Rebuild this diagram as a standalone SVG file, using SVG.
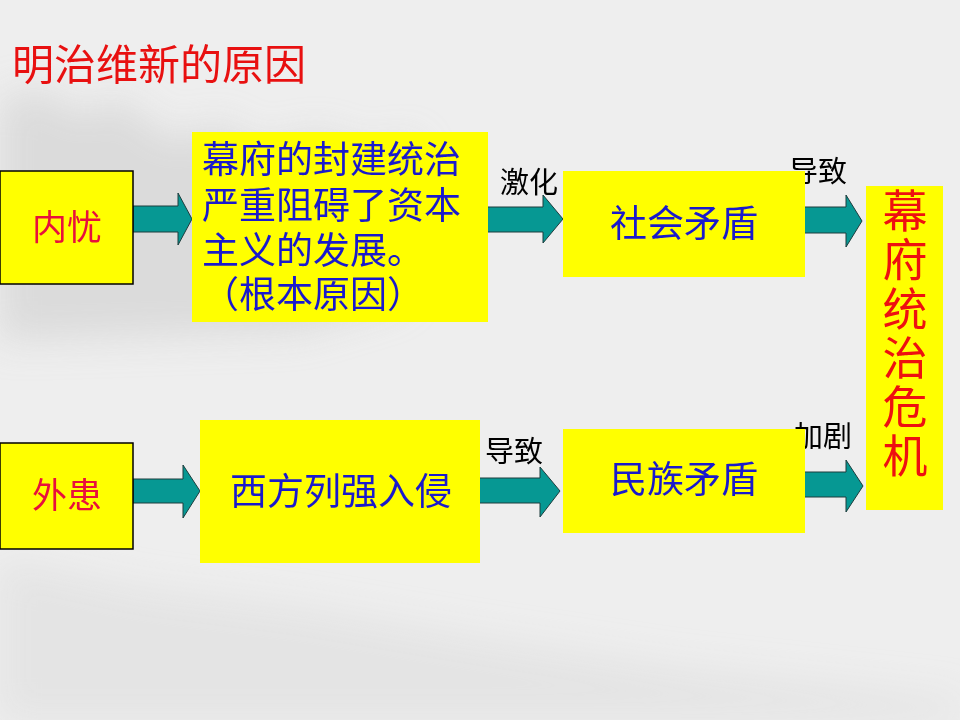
<svg xmlns="http://www.w3.org/2000/svg" width="960" height="720" viewBox="0 0 960 720">
<defs>
<style>
.cn{font-family:"Noto Sans CJK SC","Noto Sans CJK JP",sans-serif;}
.box{fill:#ffff00;}
.sbox{fill:#ffff00;stroke:#000;stroke-width:1.5;}
.bt{fill:#1a1acc;font-size:37px;}
.rt{fill:#e8103c;font-size:35px;}
.lb{fill:#000;font-size:29px;}
.arr{fill:#069893;stroke:#1c3c3c;stroke-width:1;}
</style>
<filter id="blur" x="-30%" y="-30%" width="160%" height="160%"><feGaussianBlur stdDeviation="18"/></filter>
</defs>
<rect width="960" height="720" fill="#eeeeee"/>
<g id="background" filter="url(#blur)">
<path d="M0 100 L40 90 L80 115 L120 100 L170 140 L220 125 L260 150 L320 135 L370 155 L410 140 L430 200 L400 300 L300 330 L0 340 Z" fill="#cfcfcf" opacity="0.6"/>
<path d="M0 560 L140 590 L300 610 L480 640 L680 670 L960 700 L960 720 L0 720 Z" fill="#dddddd" opacity="0.6"/>
</g>
<text class="cn" x="12" y="80" font-size="42" fill="#e81010">明治维新的原因</text>
<g id="connectors">
<polygon class="arr" points="133,206 178,206 178,193 192,219 178,245 178,232 133,232"/>
<polygon class="arr" points="487,207 543,207 543,195 563,219 543,243 543,232 487,232"/>
<polygon class="arr" points="797,207 846,207 846,195 862,221 846,247 846,233 797,233"/>
<polygon class="arr" points="133,479 183,479 183,465 200,491 183,518 183,503 133,503"/>
<polygon class="arr" points="478,478 540,478 540,467 560,491 540,517 540,503 478,503"/>
<polygon class="arr" points="797,472 846,472 846,460 863,486 846,512 846,497 797,497"/>
<text class="cn lb" x="529" y="193" text-anchor="middle">激化</text>
<text class="cn lb" x="818" y="182" text-anchor="middle">导致</text>
<text class="cn lb" x="514" y="462" text-anchor="middle">导致</text>
<text class="cn lb" x="823" y="447" text-anchor="middle">加剧</text>
</g>
<g id="neiyou">
<rect class="sbox" x="0" y="171" width="133" height="113"/>
<text class="cn rt" x="67" y="240" text-anchor="middle">内忧</text>
</g>
<g id="waihuan">
<rect class="sbox" x="0" y="443" width="133" height="106"/>
<text class="cn rt" x="67" y="508" text-anchor="middle">外患</text>
</g>
<g id="mufu">
<rect class="box" x="192" y="132" width="296" height="190"/>
<text class="cn bt"><tspan x="202" y="173">幕府的封建统治</tspan><tspan x="202" y="219">严重阻碍了资本</tspan><tspan x="202" y="264">主义的发展。</tspan><tspan x="202" y="308">（根本原因）</tspan></text>
</g>
<g id="shehui">
<rect class="box" x="563" y="171" width="242" height="106"/>
<text class="cn bt" x="684" y="237" text-anchor="middle">社会矛盾</text>
</g>
<g id="xifang">
<rect class="box" x="200" y="420" width="280" height="143"/>
<text class="cn bt" x="341" y="505" text-anchor="middle">西方列强入侵</text>
</g>
<g id="minzu">
<rect class="box" x="563" y="429" width="242" height="104"/>
<text class="cn bt" x="684" y="493" text-anchor="middle">民族矛盾</text>
</g>
<g id="weiji">
<rect class="box" x="866" y="186" width="77" height="324"/>
<text class="cn" x="905" y="188" font-size="45" fill="#ee1010" letter-spacing="4" style="writing-mode:vertical-rl">幕府统治危机</text>
</g>
</svg>
